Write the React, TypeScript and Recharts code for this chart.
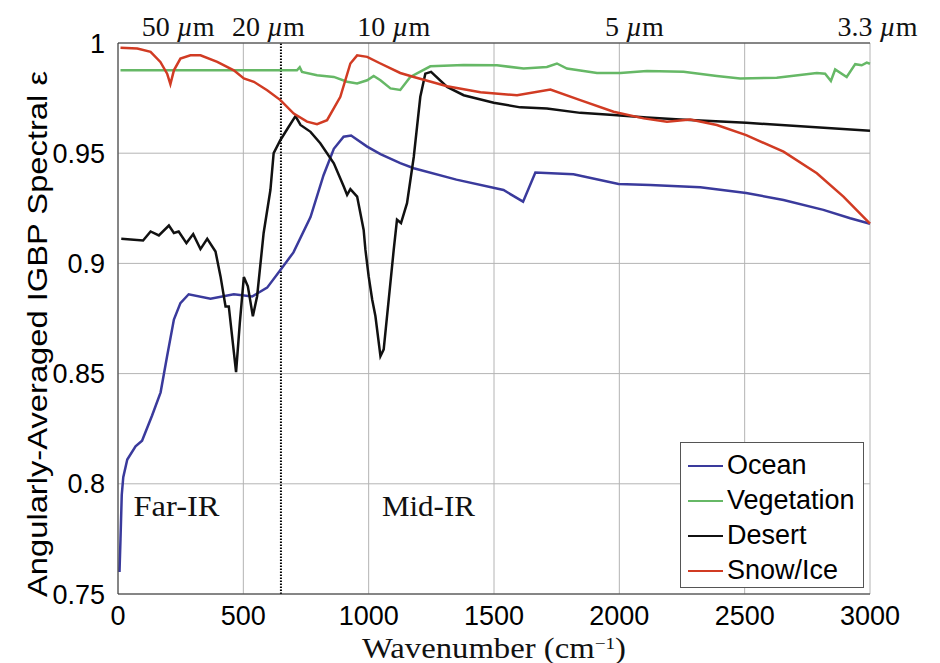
import {
  LineChart,
  Line,
  XAxis,
  YAxis,
  CartesianGrid,
  ReferenceLine,
  ReferenceDot,
  Legend,
} from 'recharts';

// wavenumber (cm^-1), emissivity pairs
const ocean: [number, number][] = [
  [6, 0.76], [10, 0.775], [15, 0.795], [21, 0.803], [37, 0.811], [70, 0.817],
  [96, 0.8195], [136, 0.831], [170, 0.8415], [196, 0.858], [223, 0.8745],
  [249, 0.882], [282, 0.886], [369, 0.884], [462, 0.886], [535, 0.885],
  [595, 0.889], [648, 0.897], [700, 0.905], [768, 0.921], [820, 0.94],
  [861, 0.952], [900, 0.9575], [930, 0.958], [994, 0.953], [1047, 0.9496],
  [1126, 0.9455], [1180, 0.9432], [1350, 0.938], [1538, 0.9333], [1616, 0.928],
  [1665, 0.9412], [1817, 0.9404], [1997, 0.936], [2123, 0.9356], [2323, 0.9346],
  [2506, 0.9319], [2655, 0.9288], [2814, 0.9243], [2921, 0.9205], [3000, 0.918],
];

const vegetation: [number, number][] = [
  [10, 0.9876], [714, 0.9876], [725, 0.989], [734, 0.9869], [794, 0.9854],
  [861, 0.9846], [914, 0.9824], [954, 0.9816], [994, 0.9831], [1020, 0.985],
  [1047, 0.9831], [1087, 0.9794], [1126, 0.9787], [1166, 0.9846], [1246, 0.9894],
  [1379, 0.99], [1512, 0.9899], [1618, 0.9884], [1711, 0.9891], [1751, 0.9907],
  [1791, 0.9884], [1911, 0.9864], [2004, 0.9864], [2110, 0.9873], [2256, 0.9869],
  [2389, 0.985], [2482, 0.9839], [2628, 0.9842], [2788, 0.9864], [2821, 0.9861],
  [2844, 0.9828], [2861, 0.988], [2907, 0.9846], [2941, 0.9904], [2967, 0.9899],
  [2987, 0.9911], [3000, 0.9906],
];

const desert: [number, number][] = [
  [13, 0.9112], [100, 0.9104], [130, 0.9145], [163, 0.9127], [203, 0.9172],
  [223, 0.9138], [242, 0.9145], [273, 0.9092], [300, 0.9133], [329, 0.9065],
  [356, 0.9112], [389, 0.9054], [409, 0.8941], [429, 0.8805], [442, 0.8805],
  [471, 0.8507], [486, 0.873], [502, 0.8938], [518, 0.8896], [538, 0.876],
  [555, 0.8851], [581, 0.9138], [608, 0.9333], [621, 0.95], [648, 0.956],
  [681, 0.962], [708, 0.9668], [728, 0.9628], [768, 0.9597], [807, 0.9545],
  [861, 0.9454], [901, 0.9348], [914, 0.9311], [927, 0.9337], [954, 0.9303],
  [980, 0.9152], [987, 0.9062], [1000, 0.8941], [1014, 0.8836], [1027, 0.876],
  [1047, 0.8579], [1060, 0.861], [1080, 0.8836], [1100, 0.9062], [1113, 0.9198],
  [1129, 0.9183], [1153, 0.9273], [1180, 0.9484], [1206, 0.9756], [1226, 0.9861],
  [1249, 0.9869], [1313, 0.9801], [1379, 0.9763], [1499, 0.9729], [1605, 0.9708],
  [1711, 0.9703], [1844, 0.9683], [1977, 0.9673], [2110, 0.9662], [2243, 0.9653],
  [2506, 0.9638], [3000, 0.9602],
];

const snowIce: [number, number][] = [
  [10, 0.9979], [77, 0.9975], [130, 0.996], [169, 0.9914], [196, 0.9861],
  [209, 0.9813], [223, 0.9876], [249, 0.9929], [289, 0.9944], [329, 0.9944],
  [396, 0.9914], [462, 0.9876], [502, 0.9839], [542, 0.9824], [595, 0.9786],
  [648, 0.9741], [701, 0.968], [754, 0.9643], [794, 0.9632], [834, 0.965],
  [887, 0.9756], [927, 0.9907], [954, 0.9944], [994, 0.9937], [1047, 0.9907],
  [1126, 0.9864], [1180, 0.9846], [1313, 0.9804], [1446, 0.9777], [1592, 0.9763],
  [1725, 0.9789], [1844, 0.9741], [1977, 0.9688], [2097, 0.9658], [2190, 0.9643],
  [2283, 0.9653], [2389, 0.9628], [2506, 0.9582], [2655, 0.9507], [2788, 0.9409],
  [2894, 0.9303], [3000, 0.918],
];

const seriesNames = ['Ocean', 'Vegetation', 'Desert', 'Snow/Ice'];
const seriesColors = ['#3a3a9c', '#66b866', '#111111', '#d13b23'];

const wavenumberTicks = [0, 500, 1000, 1500, 2000, 2500, 3000];
const emissivityTicks = [0.75, 0.8, 0.85, 0.9, 0.95, 1];
const wavelengthLabels = ['50', '20', '10', '5', '3.3'];
const wavelengthLabelAt = [240, 600, 1100, 2060, 3030];

const SANS = '"Liberation Sans", Arial, sans-serif';
const SERIF = '"Liberation Serif", "Times New Roman", serif';

const toPoints = (pairs: [number, number][]) => pairs.map(([w, e]) => ({ w, e }));
const allSeries = [ocean, vegetation, desert, snowIce].map(toPoints);

function LegendBox() {
  return (
    <div
      style={{
        border: '1.5px solid #555',
        background: '#fff',
        width: 184,
        height: 146,
        boxSizing: 'border-box',
        paddingTop: 5,
      }}
    >
      {seriesNames.map((name, i) => (
        <div key={name} style={{ display: 'flex', alignItems: 'center', height: 35 }}>
          <div style={{ width: 35, height: 2, background: seriesColors[i], marginLeft: 7, marginRight: 4 }} />
          <span style={{ fontFamily: SANS, fontSize: 27, color: '#000', lineHeight: '35px' }}>{name}</span>
        </div>
      ))}
    </div>
  );
}

export default function App() {
  return (
    <div style={{ position: 'absolute', left: 0, top: 0, width: 940, height: 663, background: '#fff' }}>
      <LineChart width={940} height={663} margin={{ top: 0, right: 70, bottom: 0, left: 0 }}>
        <CartesianGrid stroke="#b4b4b4" strokeWidth={1} />
        <XAxis
          dataKey="w"
          type="number"
          domain={[0, 3000]}
          ticks={wavenumberTicks}
          height={69}
          tickLine={false}
          tickSize={0}
          tickMargin={12}
          axisLine={{ stroke: '#333', strokeWidth: 1 }}
          tick={{ fontFamily: SANS, fontSize: 27, fill: '#000' }}
          label={{
            content: (p: any) => {
              const vb = p.viewBox;
              return (
                <text
                  x={vb.x + vb.width / 2}
                  y={vb.y + 64}
                  textAnchor="middle"
                  fontFamily={SERIF}
                  fontSize={29}
                  fill="#111"
                  textLength={264}
                  lengthAdjust="spacingAndGlyphs"
                >
                  Wavenumber (cm<tspan dy={-9} fontSize={17}>−1</tspan><tspan dy={9}>)</tspan>
                </text>
              );
            },
          }}
        />
        <XAxis
          xAxisId="top"
          orientation="top"
          type="number"
          domain={[0, 3000]}
          height={43}
          tick={false}
          tickLine={false}
          axisLine={{ stroke: '#333', strokeWidth: 1 }}
        />
        <YAxis
          type="number"
          domain={[0.75, 1]}
          ticks={emissivityTicks}
          width={118}
          tickLine={false}
          tickSize={0}
          tickMargin={13}
          axisLine={{ stroke: '#333', strokeWidth: 1 }}
          tick={{ fontFamily: SANS, fontSize: 27, fill: '#000' }}
          tickFormatter={(v: number) => String(v)}
          label={{
            content: () => {
              const cx = 47;
              const cy = 334;
              return (
                <text
                  x={cx}
                  y={cy}
                  transform={`rotate(-90, ${cx}, ${cy})`}
                  textAnchor="middle"
                  fontFamily={SANS}
                  fontSize={28}
                  fill="#000"
                  textLength={526}
                  lengthAdjust="spacingAndGlyphs"
                >
                  Angularly-Averaged IGBP Spectral ε
                </text>
              );
            },
          }}
        />
        <YAxis
          yAxisId="right"
          orientation="right"
          type="number"
          domain={[0.75, 1]}
          width={0}
          tick={false}
          tickLine={false}
          axisLine={{ stroke: '#333', strokeWidth: 1 }}
        />
        <ReferenceLine x={650} stroke="#000" strokeWidth={2} strokeDasharray="1.5 1.5" />
        {wavelengthLabelAt.map((w, i) => (
          <ReferenceDot
            key={w}
            x={w}
            y={1}
            r={0}
            ifOverflow="visible"
            shape={(p: any) => (
              <text x={p.cx} y={p.cy - 7} textAnchor="middle" fontFamily={SERIF} fontSize={28} fill="#111">
                {wavelengthLabels[i]} <tspan fontStyle="italic">µ</tspan>m
              </text>
            )}
          />
        ))}
        <ReferenceDot
          x={62}
          y={0.7854}
          r={0}
          shape={(p: any) => (
            <text x={p.cx} y={p.cy} fontFamily={SERIF} fontSize={29} fill="#111" textLength={86} lengthAdjust="spacingAndGlyphs">
              Far-IR
            </text>
          )}
        />
        <ReferenceDot
          x={1053}
          y={0.7854}
          r={0}
          shape={(p: any) => (
            <text x={p.cx} y={p.cy} fontFamily={SERIF} fontSize={29} fill="#111" textLength={93} lengthAdjust="spacingAndGlyphs">
              Mid-IR
            </text>
          )}
        />
        {allSeries.map((pts, i) => (
          <Line
            key={seriesNames[i]}
            data={pts}
            dataKey="e"
            name={seriesNames[i]}
            type="linear"
            stroke={seriesColors[i]}
            strokeWidth={2.5}
            dot={false}
            isAnimationActive={false}
          />
        ))}
        <Legend
          layout="vertical"
          align="center"
          verticalAlign="middle"
          wrapperStyle={{ left: 680, top: 442, width: 184, height: 146 }}
          content={() => <LegendBox />}
        />
      </LineChart>
    </div>
  );
}
